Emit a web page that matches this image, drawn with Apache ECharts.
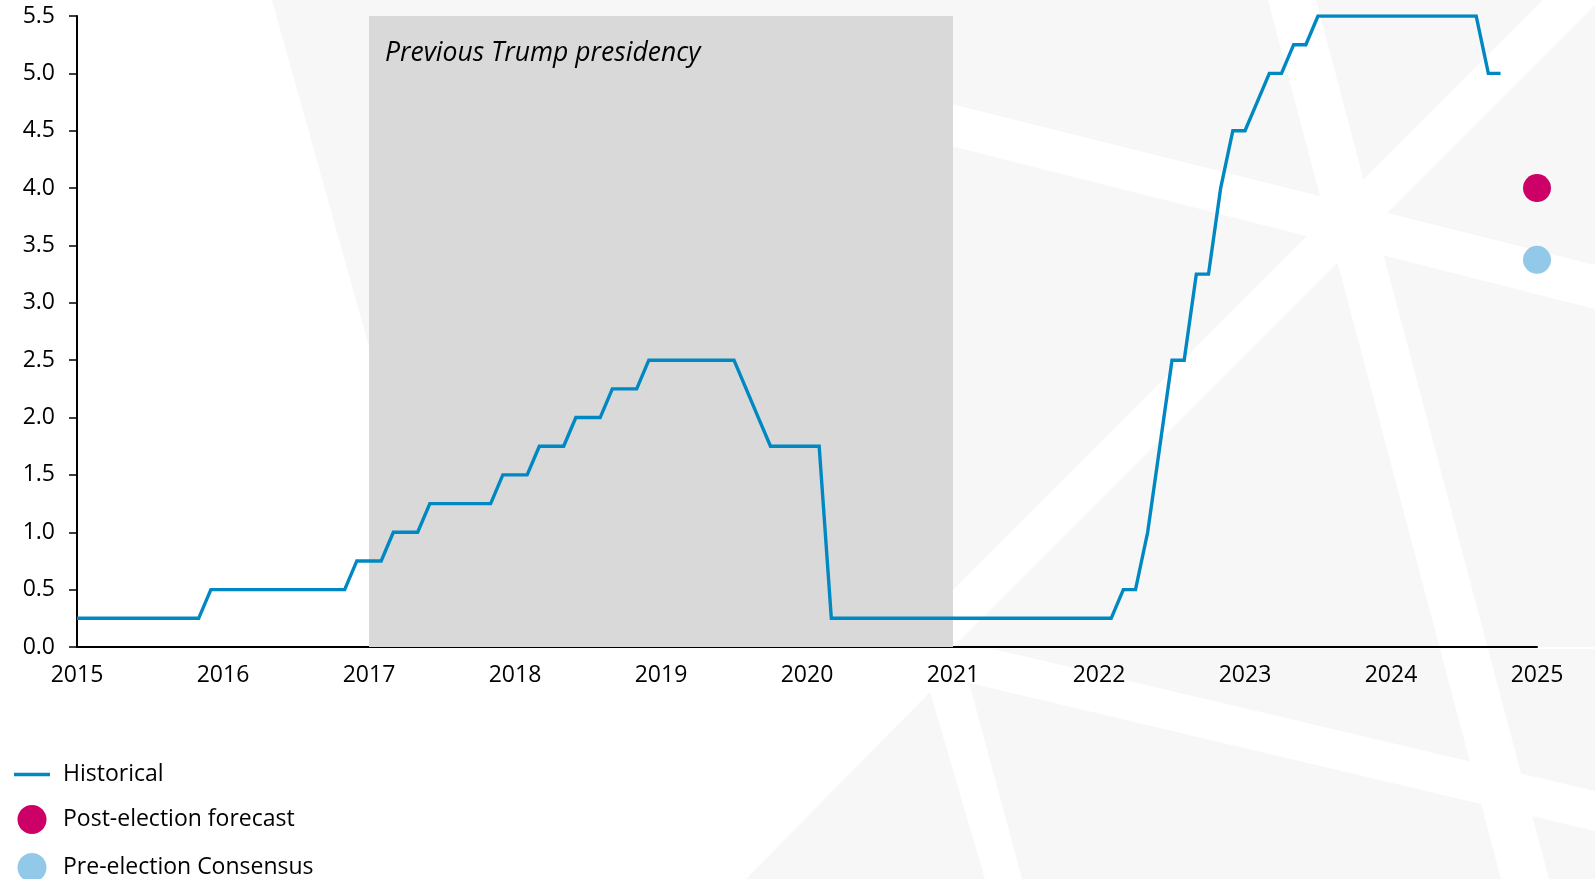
<!DOCTYPE html>
<html>
<head>
<meta charset="utf-8">
<script src="https://cdn.jsdelivr.net/npm/echarts@6/dist/echarts.min.js"></script>
<style>
html,body{margin:0;padding:0;background:#fff;}
#chart{width:1595px;height:879px;}
</style>
</head>
<body>
<div id="chart"></div>
<script>
// ---------- DATA ----------
const startYear = 2015; // first month of the series is January 2015
const historicalRates = [
  // 2015
  0.25,0.25,0.25,0.25,0.25,0.25,0.25,0.25,0.25,0.25,0.25,0.5,
  // 2016
  0.5,0.5,0.5,0.5,0.5,0.5,0.5,0.5,0.5,0.5,0.5,0.75,
  // 2017
  0.75,0.75,1.0,1.0,1.0,1.25,1.25,1.25,1.25,1.25,1.25,1.5,
  // 2018
  1.5,1.5,1.75,1.75,1.75,2.0,2.0,2.0,2.25,2.25,2.25,2.5,
  // 2019
  2.5,2.5,2.5,2.5,2.5,2.5,2.5,2.25,2.0,1.75,1.75,1.75,
  // 2020
  1.75,1.75,0.25,0.25,0.25,0.25,0.25,0.25,0.25,0.25,0.25,0.25,
  // 2021
  0.25,0.25,0.25,0.25,0.25,0.25,0.25,0.25,0.25,0.25,0.25,0.25,
  // 2022
  0.25,0.25,0.5,0.5,1.0,1.75,2.5,2.5,3.25,3.25,4.0,4.5,
  // 2023
  4.5,4.75,5.0,5.0,5.25,5.25,5.5,5.5,5.5,5.5,5.5,5.5,
  // 2024 (to October)
  5.5,5.5,5.5,5.5,5.5,5.5,5.5,5.5,5.0,5.0
];
const forecastYear = 2025;
const postElectionForecast = 4.0;
const preElectionConsensus = 3.375;
const presidencyStart = 2017;
const presidencyEnd = 2021;
const presidencyLabel = 'Previous Trump presidency';
const xTickYears = [2015,2016,2017,2018,2019,2020,2021,2022,2023,2024,2025];
const yTicks = [0,0.5,1,1.5,2,2.5,3,3.5,4,4.5,5,5.5];
const seriesNames = ['Historical','Post-election forecast','Pre-election Consensus'];

// ---------- BUILD ----------
const historicalData = historicalRates.map((v, i) => [startYear + i / 12, v]);
const FONT = "'Open Sans', sans-serif";
const BG = '#f7f7f7';
const LINE_COLOR = '#0088c2';
const POST_COLOR = '#cc0066';
const PRE_COLOR = '#93c9e8';

function poly(points, fill) {
  return { type: 'polygon', z: -100, silent: true, shape: { points: points }, style: { fill: fill } };
}

const chart = echarts.init(document.getElementById('chart'), null, { renderer: 'canvas' });
chart.setOption({
  animation: false,
  backgroundColor: '#ffffff',
  textStyle: { fontFamily: FONT },
  graphic: [
    // faint background watermark
    poly([[272,0],[1595,0],[1595,647],[453,647]], BG),
    poly([[960,649],[1595,649],[1595,879],[1022,879]], BG),
    poly([[930,692],[746,879],[985,879]], BG),
    poly([[900,91],[1595,265],[1595,309],[900,133]], '#ffffff'),
    poly([[1268,0],[1316,0],[1549,879],[1501,879]], '#ffffff'),
    poly([[896,647],[1543,0],[1600,0],[953,647]], '#ffffff'),
    poly([[985,647],[1595,791],[1595,831],[940,676],[940,647]], '#ffffff')
  ],
  grid: { left: 77, right: 58, top: 16, bottom: 232, containLabel: false },
  legend: {
    orient: 'vertical',
    left: 14,
    top: 763,
    height: 180,
    padding: 0,
    itemWidth: 36,
    itemHeight: 29,
    itemGap: 19,
    textStyle: { fontFamily: FONT, fontSize: 23, color: '#000', padding: [0,0,0,8] },
    data: [
      { name: seriesNames[0], icon: 'path://M0,0H36V3.4H0Z', itemStyle: { color: LINE_COLOR } },
      { name: seriesNames[1], icon: 'circle' },
      { name: seriesNames[2], icon: 'circle' }
    ]
  },
  xAxis: {
    type: 'value',
    min: xTickYears[0],
    max: xTickYears[xTickYears.length - 1],
    interval: 1,
    axisLine: { show: true, lineStyle: { color: '#000', width: 2 } },
    axisTick: { show: false },
    splitLine: { show: false },
    axisLabel: { color: '#000', fontSize: 23, fontFamily: FONT, margin: 17, formatter: v => String(v) }
  },
  yAxis: {
    type: 'value',
    min: yTicks[0],
    max: yTicks[yTicks.length - 1],
    interval: 0.5,
    axisLine: { show: true, lineStyle: { color: '#000', width: 2 } },
    axisTick: { show: true, length: 8, lineStyle: { color: '#000', width: 1.5 } },
    splitLine: { show: false },
    axisLabel: { color: '#000', fontSize: 23, fontFamily: FONT, margin: 22, formatter: v => v.toFixed(1) }
  },
  series: [
    {
      name: 'presidency',
      type: 'line',
      z: 1,
      data: [],
      silent: true,
      markArea: {
        silent: true,
        itemStyle: { color: '#d9d9d9', opacity: 1 },
        label: {
          show: true,
          position: [16, 24],
          fontFamily: FONT,
          fontStyle: 'italic',
          fontSize: 26.5,
          color: '#000'
        },
        data: [[{ name: presidencyLabel, xAxis: presidencyStart }, { xAxis: presidencyEnd }]]
      }
    },
    {
      name: seriesNames[0],
      type: 'line',
      z: 3,
      showSymbol: false,
      symbol: 'none',
      data: historicalData,
      color: LINE_COLOR,
      lineStyle: { color: LINE_COLOR, width: 3.4, join: 'miter' }
    },
    {
      name: seriesNames[1],
      type: 'scatter',
      z: 4,
      symbolSize: 28,
      color: POST_COLOR,
      itemStyle: { color: POST_COLOR, opacity: 1 },
      data: [[forecastYear, postElectionForecast]]
    },
    {
      name: seriesNames[2],
      type: 'scatter',
      z: 4,
      symbolSize: 28,
      color: PRE_COLOR,
      itemStyle: { color: PRE_COLOR, opacity: 1 },
      data: [[forecastYear, preElectionConsensus]]
    }
  ]
});
</script>
</body>
</html>
